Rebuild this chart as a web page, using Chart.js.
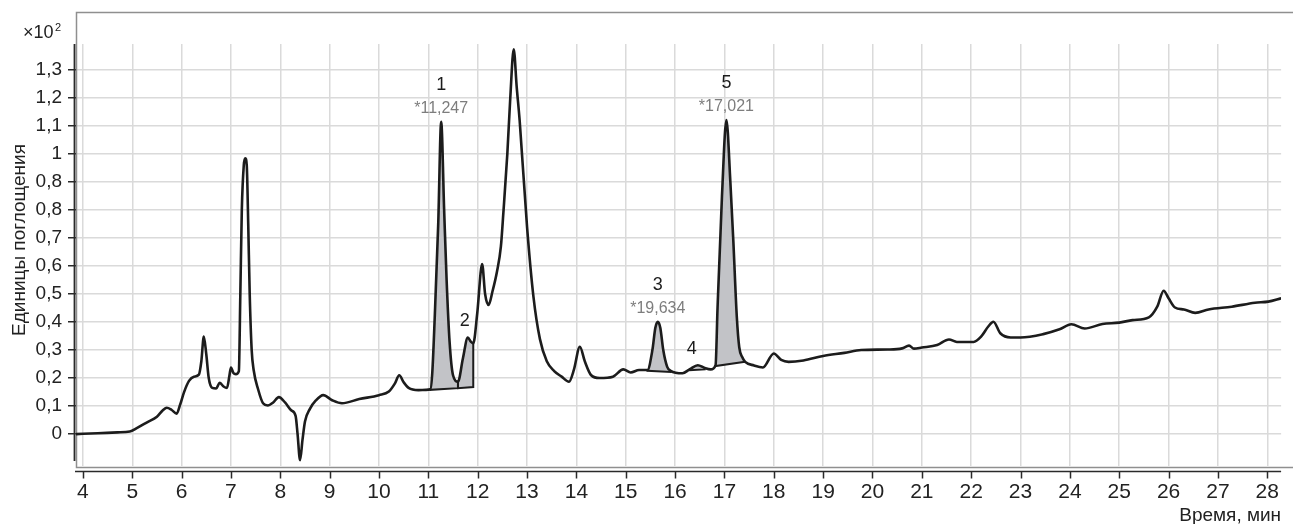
<!DOCTYPE html>
<html lang="ru">
<head>
<meta charset="utf-8">
<title>Хроматограмма</title>
<script src="https://cdn.jsdelivr.net/npm/chart.js@4.4.1/dist/chart.umd.min.js"></script>
<style>
  html, body { margin: 0; padding: 0; background: #fff; }
  #wrap { width: 1293px; height: 524px; }
</style>
</head>
<body>
<div id="wrap"><canvas id="chroma" width="1293" height="524"></canvas></div>
<script>
// retention time, min
const timeMin = [
  3.86, 4.3, 4.7, 4.95, 5.1, 5.3, 5.5, 5.62, 5.7, 5.8, 5.9, 5.97, 6.05, 6.15, 6.25, 6.35,
  6.4, 6.45, 6.5, 6.55, 6.62, 6.7, 6.77, 6.85, 6.92, 6.97, 7.0, 7.05, 7.1, 7.16, 7.19, 7.22,
  7.26, 7.29, 7.32, 7.35, 7.38, 7.42, 7.46, 7.55, 7.65, 7.75, 7.85, 7.97, 8.1, 8.22, 8.31,
  8.35, 8.4, 8.45, 8.5, 8.6, 8.72, 8.87, 9.05, 9.25, 9.6, 10.0, 10.2, 10.32, 10.41, 10.5,
  10.6, 10.8, 10.95, 11.04, 11.08, 11.13, 11.2, 11.26, 11.32, 11.37, 11.43, 11.5, 11.6,
  11.7, 11.8, 11.86, 11.91, 11.99, 12.09, 12.15, 12.22, 12.3, 12.39, 12.47, 12.52, 12.6,
  12.66, 12.73, 12.79, 12.85, 13.0, 13.13, 13.26, 13.4, 13.55, 13.7, 13.85, 13.95, 14.07,
  14.17, 14.3, 14.47, 14.74, 14.95, 15.1, 15.27, 15.44, 15.54, 15.6, 15.65, 15.7, 15.76,
  15.84, 15.91, 16.15, 16.3, 16.46, 16.6, 16.72, 16.82, 16.86, 16.95, 17.04, 17.12, 17.18,
  17.25, 17.3, 17.36, 17.42, 17.6, 17.78, 18.0, 18.15, 18.3, 18.6, 19.0, 19.43, 19.77, 20.3,
  20.6, 20.74, 20.84, 21.0, 21.31, 21.55, 21.71, 22.05, 22.2, 22.35, 22.45, 22.59, 22.8,
  23.0, 23.46, 23.79, 24.03, 24.3, 24.66, 25.0, 25.27, 25.6, 25.77, 25.9, 26.0, 26.13,
  26.31, 26.54, 26.81, 27.28, 27.75, 28.02, 28.28
];

// absorbance, units ×10²
const absorbance = [
  0.0, 0.003, 0.006, 0.009, 0.022, 0.042, 0.062, 0.085, 0.094, 0.086, 0.073, 0.105, 0.15, 0.19, 0.205, 0.212,
  0.26, 0.348, 0.285, 0.2, 0.165, 0.163, 0.183, 0.17, 0.165, 0.21, 0.238, 0.218, 0.214, 0.225, 0.5, 0.8,
  0.96, 0.985, 0.96, 0.75, 0.5, 0.3, 0.229, 0.16, 0.11, 0.102, 0.112, 0.132, 0.112, 0.085, 0.065,
  0.0, -0.093, -0.02, 0.045, 0.09, 0.12, 0.139, 0.121, 0.11, 0.125, 0.139, 0.152, 0.18, 0.21, 0.185,
  0.165, 0.157, 0.158, 0.16, 0.22, 0.42, 0.75, 1.115, 0.8, 0.55, 0.33, 0.21, 0.187,
  0.27, 0.345, 0.33, 0.324, 0.43, 0.607, 0.5, 0.461, 0.51, 0.58, 0.67, 0.79, 1.0,
  1.2, 1.374, 1.24, 1.12, 0.74, 0.49, 0.34, 0.26, 0.225, 0.205, 0.187, 0.23, 0.312,
  0.26, 0.21, 0.2, 0.205, 0.231, 0.22, 0.229, 0.229, 0.3, 0.38, 0.401, 0.38, 0.3,
  0.24, 0.226, 0.217, 0.232, 0.246, 0.236, 0.231, 0.246, 0.45, 0.85, 1.121, 0.9, 0.69,
  0.42, 0.31, 0.275, 0.258, 0.245, 0.238, 0.288, 0.265, 0.258, 0.263, 0.279, 0.29, 0.3, 0.302,
  0.306, 0.316, 0.305, 0.309, 0.318, 0.338, 0.329, 0.329, 0.348, 0.385, 0.401, 0.36, 0.345,
  0.345, 0.357, 0.374, 0.392, 0.377, 0.393, 0.398, 0.407, 0.417, 0.455, 0.512, 0.485, 0.452,
  0.445, 0.433, 0.445, 0.455, 0.469, 0.473, 0.485
];

const xTicks = [4, 5, 6, 7, 8, 9, 10, 11, 12, 13, 14, 15, 16, 17, 18, 19, 20, 21, 22, 23, 24, 25, 26, 27, 28];
const yTicks = [0, 0.1, 0.2, 0.3, 0.4, 0.5, 0.6, 0.7, 0.8, 0.9, 1.0, 1.1, 1.2, 1.3];
const yTickLabels = ['0', '0,1', '0,2', '0,3', '0,4', '0,5', '0,6', '0,7', '0,8', '0,8', '1', '1,1', '1,2', '1,3'];

// integrated peaks: window on the trace and its drop baseline
const peakNames = ['1', '2', '3', '4', '5'];
const peakFrom = [11.04, 11.6, 15.44, 16.3, 16.82];
const peakTo = [11.6, 11.91, 15.91, 16.6, 17.42];
const baseFrom = [0.158, 0.164, 0.226, 0.228, 0.243];
const baseTo = [0.164, 0.168, 0.222, 0.231, 0.258];
const peakApex = [11.26, 11.8, 15.65, 16.46, 17.04];
const peakNote = ['*11,247', '', '*19,634', '', '*17,021'];

const INK = '#1c1c1c';
const AREA = '#c2c3c7';
const GRID = '#dadada';
const FONT = 'Liberation Sans';

const trace = timeMin.map((t, i) => ({ x: t, y: absorbance[i] }));
const valueAt = t => absorbance[timeMin.indexOf(t)];

const datasets = [{
  data: trace,
  borderColor: INK,
  borderWidth: 2.6,
  pointRadius: 0,
  cubicInterpolationMode: 'monotone',
  fill: false,
  order: 0
}];

peakNames.forEach((name, i) => {
  const baseIndex = datasets.length;
  datasets.push({
    data: [{ x: peakFrom[i], y: baseFrom[i] }, { x: peakTo[i], y: baseTo[i] }],
    borderColor: 'transparent',
    borderWidth: 0,
    pointRadius: 0,
    fill: false,
    order: 3
  });
  datasets.push({
    data: trace.filter(p => p.x >= peakFrom[i] && p.x <= peakTo[i]),
    borderColor: 'transparent',
    borderWidth: 0,
    pointRadius: 0,
    cubicInterpolationMode: 'monotone',
    fill: { target: baseIndex },
    backgroundColor: AREA,
    order: 2
  });
  // drop lines and baseline of the integrated area
  datasets.push({
    data: [
      { x: peakFrom[i], y: valueAt(peakFrom[i]) },
      { x: peakFrom[i], y: baseFrom[i] },
      { x: peakTo[i], y: baseTo[i] },
      { x: peakTo[i], y: valueAt(peakTo[i]) }
    ],
    borderColor: INK,
    borderWidth: 2,
    pointRadius: 0,
    tension: 0,
    fill: false,
    order: 1
  });
});

const decor = {
  id: 'decor',
  beforeDatasetsDraw(chart) {
    const { ctx, chartArea: a } = chart;
    ctx.save();
    ctx.strokeStyle = '#8f8f8f';
    ctx.lineWidth = 1.5;
    ctx.beginPath();
    ctx.moveTo(chart.width, 12.5);
    ctx.lineTo(a.left + 0.5, 12.5);
    ctx.lineTo(a.left + 0.5, a.bottom + 1.5);
    ctx.lineTo(chart.width, a.bottom + 1.5);
    ctx.stroke();
    ctx.restore();
  },
  afterDatasetsDraw(chart) {
    const { ctx, chartArea: a, scales: { x, y } } = chart;
    ctx.save();
    ctx.strokeStyle = '#2a2a2a';
    ctx.lineWidth = 1.8;
    // y axis
    ctx.beginPath();
    ctx.moveTo(a.left - 1.5, a.top);
    ctx.lineTo(a.left - 1.5, a.bottom - 5);
    ctx.stroke();
    // x axis with ticks below the frame
    const ay = a.bottom + 5.5;
    ctx.lineWidth = 1.5;
    ctx.beginPath();
    ctx.moveTo(a.left - 1, ay);
    ctx.lineTo(a.right, ay);
    xTicks.forEach(t => {
      const px = Math.round(x.getPixelForValue(t)) + 0.5;
      ctx.moveTo(px, ay);
      ctx.lineTo(px, ay + 7);
    });
    ctx.stroke();

    // peak numbers and retention notes
    const nudge = [0, -3, 0, -6, 0];
    ctx.textAlign = 'center';
    ctx.textBaseline = 'alphabetic';
    peakNames.forEach((name, i) => {
      const px = x.getPixelForValue(peakApex[i]) + nudge[i];
      const py = y.getPixelForValue(valueAt(peakApex[i]));
      if (peakNote[i]) {
        ctx.font = '16px ' + FONT;
        ctx.fillStyle = '#7d7d7d';
        ctx.fillText(peakNote[i], px, py - 9);
        ctx.font = '18px ' + FONT;
        ctx.fillStyle = INK;
        ctx.fillText(name, px, py - 32);
      } else {
        ctx.font = '18px ' + FONT;
        ctx.fillStyle = INK;
        ctx.fillText(name, px, py - 11);
      }
    });

    // axis titles
    ctx.fillStyle = '#222';
    ctx.font = '19px ' + FONT;
    ctx.textAlign = 'right';
    ctx.fillText('Время, мин', a.right, 521);

    ctx.save();
    ctx.translate(20, 240);
    ctx.rotate(-Math.PI / 2);
    ctx.textAlign = 'center';
    ctx.textBaseline = 'middle';
    ctx.fillText('Единицы поглощения', 0, 0);
    ctx.restore();

    ctx.textAlign = 'left';
    ctx.font = '18px ' + FONT;
    ctx.fillText('×10', 23, 38);
    ctx.font = '11px ' + FONT;
    ctx.fillText('2', 55, 31);
    ctx.restore();
  }
};

new Chart(document.getElementById('chroma'), {
  type: 'line',
  data: { datasets },
  plugins: [decor],
  options: {
    responsive: false,
    animation: false,
    devicePixelRatio: 1,
    layout: { padding: { top: 44, right: 3, left: 0, bottom: 0 } },
    plugins: { legend: { display: false }, tooltip: { enabled: false } },
    scales: {
      x: {
        type: 'linear',
        min: 3.86,
        max: 28.28,
        afterBuildTicks: s => { s.ticks = xTicks.map(v => ({ value: v })); },
        afterFit: s => { s.height = 58; },
        grid: { color: GRID, lineWidth: 1.5, drawTicks: false },
        border: { display: false },
        ticks: {
          autoSkip: false,
          maxRotation: 0,
          padding: 14,
          color: '#222',
          font: { family: FONT, size: 21 },
          callback: v => String(v)
        }
      },
      y: {
        type: 'linear',
        min: -0.114,
        max: 1.393,
        afterBuildTicks: s => { s.ticks = yTicks.map(v => ({ value: v })); },
        afterFit: s => { s.width = 76; },
        grid: { color: GRID, lineWidth: 1.5, tickLength: 8, tickColor: '#2a2a2a', tickWidth: 1.5 },
        border: { display: false },
        ticks: {
          autoSkip: false,
          padding: 6,
          color: '#222',
          font: { family: FONT, size: 19 },
          callback: (v, i) => yTickLabels[i]
        }
      }
    }
  }
});
</script>
</body>
</html>
